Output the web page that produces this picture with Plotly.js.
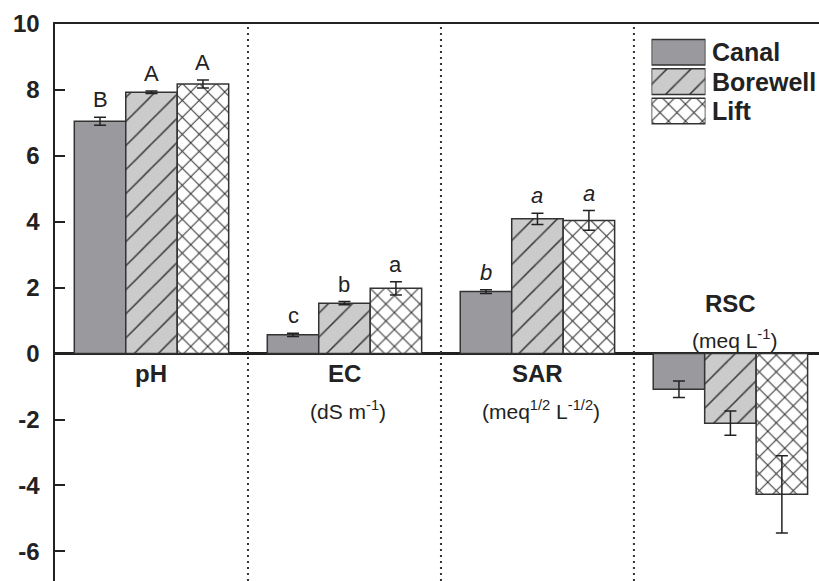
<!DOCTYPE html>
<html>
<head>
<meta charset="utf-8">
<script src="https://cdn.plot.ly/plotly-3.0.1.min.js"></script>
<style>
  html, body { margin: 0; padding: 0; background: #ffffff; }
  #chart { width: 819px; height: 581px; }
</style>
</head>
<body>
<div id="chart"></div>
<script>
// Water quality parameters by irrigation source
const categories = ['pH', 'EC', 'SAR', 'RSC'];
const units = ['', 'dS m<sup>-1</sup>', 'meq<sup>1/2</sup> L<sup>-1/2</sup>', 'meq L<sup>-1</sup>'];
const italicLetters = [false, false, true, false];

const seriesNames = ['Canal', 'Borewell', 'Lift'];

const canalValues = [7.05, 0.57, 1.88, -1.08];
const canalErrors = [0.12, 0.05, 0.06, 0.25];
const canalLetters = ['B', 'c', 'b', ''];

const borewellValues = [7.93, 1.53, 4.09, -2.11];
const borewellErrors = [0.04, 0.05, 0.17, 0.37];
const borewellLetters = ['A', 'b', 'a', ''];

const liftValues = [8.18, 1.98, 4.04, -4.27];
const liftErrors = [0.12, 0.20, 0.30, 1.17];
const liftLetters = ['A', 'a', 'a', ''];

const yTickValues = [-6, -4, -2, 0, 2, 4, 6, 8, 10];
const yTickLabels = ['-6', '-4', '-2', '0', '2', '4', '6', '8', '10'];

// ---- styling ----
const FONT = 'Liberation Sans, Arial, Helvetica, sans-serif';
const INK = '#222222';
const OUTLINE = { color: '#333333', width: 1.5 };
const markers = [
  { color: '#9a9a9e', line: OUTLINE },
  { color: '#cbcbcb', line: OUTLINE,
    pattern: { shape: '/', bgcolor: '#cbcbcb', fgcolor: '#3c3c3c', size: 17, solidity: 0.09 } },
  { color: '#ffffff', line: OUTLINE,
    pattern: { shape: 'x', bgcolor: '#ffffff', fgcolor: '#2e2e2e', size: 12, solidity: 0.16 } }
];

const values = [canalValues, borewellValues, liftValues];
const errors = [canalErrors, borewellErrors, liftErrors];
const letters = [canalLetters, borewellLetters, liftLetters];

const xIdx = categories.map((_, i) => i);
const BARGAP = 0.2;
const slot = (1 - BARGAP) / seriesNames.length;

const traces = [];
seriesNames.forEach((name, s) => {
  traces.push({
    type: 'bar',
    name: name,
    x: xIdx,
    y: values[s],
    marker: markers[s],
    error_y: { type: 'data', array: errors[s], visible: true, color: INK, thickness: 1.5, width: 6 },
    showlegend: false,
    hoverinfo: 'skip'
  });
});

// legend swatches drawn as bars on a small separate subplot so they carry the fill patterns
seriesNames.forEach((name, s) => {
  traces.push({
    type: 'bar',
    orientation: 'h',
    x: [1],
    y: [name],
    xaxis: 'x2',
    yaxis: 'y2',
    offsetgroup: 'key',
    width: 0.87,
    marker: markers[s],
    showlegend: false,
    hoverinfo: 'skip'
  });
});

const annotations = [];

// significance letters above each error bar
seriesNames.forEach((name, s) => {
  categories.forEach((c, i) => {
    const t = letters[s][i];
    if (!t) return;
    const v = values[s][i];
    annotations.push({
      xref: 'x', yref: 'y',
      x: i + (s - 1) * slot,
      y: v + errors[s][i],
      text: italicLetters[i] ? '<i>' + t + '</i>' : t,
      showarrow: false,
      xanchor: 'center', yanchor: 'bottom', yshift: 3,
      font: { family: FONT, size: 22, color: INK }
    });
  });
});

// category names with units; placed above the zero line when all bars are negative
categories.forEach((c, i) => {
  const allNeg = values.every(arr => arr[i] < 0);
  const nameShift = allNeg ? 50 : -20;
  const unitShift = allNeg ? 15 : -56;
  annotations.push({
    xref: 'x', yref: 'y', x: i, y: 0,
    text: '<b>' + c + '</b>', showarrow: false,
    xanchor: 'center', yanchor: 'middle', yshift: nameShift,
    font: { family: FONT, size: 24, color: INK }
  });
  if (units[i]) {
    annotations.push({
      xref: 'x', yref: 'y', x: i + 0.02, y: 0,
      text: '(' + units[i] + ')', showarrow: false,
      xanchor: 'center', yanchor: 'middle', yshift: unitShift,
      font: { family: FONT, size: 21, color: INK }
    });
  }
});

// legend labels next to the swatches
seriesNames.forEach((name) => {
  annotations.push({
    xref: 'x2', yref: 'y2', x: 1, y: name,
    text: '<b>' + name + '</b>', showarrow: false,
    xanchor: 'left', yanchor: 'middle', xshift: 5,
    font: { family: FONT, size: 25, color: INK }
  });
});

// dotted separators between parameter groups
const shapes = [];
for (let i = 0; i < categories.length - 1; i++) {
  shapes.push({
    type: 'line', xref: 'x', yref: 'paper',
    x0: i + 0.5, x1: i + 0.5, y0: 0, y1: 1,
    line: { color: '#333333', width: 2, dash: '2px,4px' }
  });
}

const layout = {
  width: 819,
  height: 581,
  margin: { l: 55, r: 0, t: 24, b: 0, pad: 0 },
  paper_bgcolor: '#ffffff',
  plot_bgcolor: '#ffffff',
  barmode: 'group',
  bargap: BARGAP,
  bargroupgap: 0,
  showlegend: false,
  xaxis: {
    range: [-0.5, 3.459],
    side: 'top',
    showline: true, linewidth: 2, linecolor: INK,
    showticklabels: false, ticks: '',
    showgrid: false, zeroline: false,
    fixedrange: true
  },
  yaxis: {
    range: [-6.9, 10],
    tickvals: yTickValues,
    ticktext: yTickLabels,
    ticks: 'inside', ticklen: 10, tickwidth: 2, tickcolor: INK,
    ticklabelstandoff: 8,
    showline: true, linewidth: 2.5, linecolor: INK,
    zeroline: true, zerolinewidth: 2.5, zerolinecolor: INK,
    showgrid: false,
    tickfont: { family: FONT, size: 24, weight: 'bold', color: INK },
    fixedrange: true
  },
  xaxis2: {
    domain: [0.7808, 0.8514], anchor: 'y2',
    range: [0, 1], visible: false, fixedrange: true
  },
  yaxis2: {
    domain: [0.815, 0.978], anchor: 'x2',
    type: 'category', categoryorder: 'array', categoryarray: seriesNames,
    autorange: 'reversed', visible: false, fixedrange: true
  },
  annotations: annotations,
  shapes: shapes
};

Plotly.newPlot('chart', traces, layout, { staticPlot: true, displayModeBar: false });
</script>
</body>
</html>
